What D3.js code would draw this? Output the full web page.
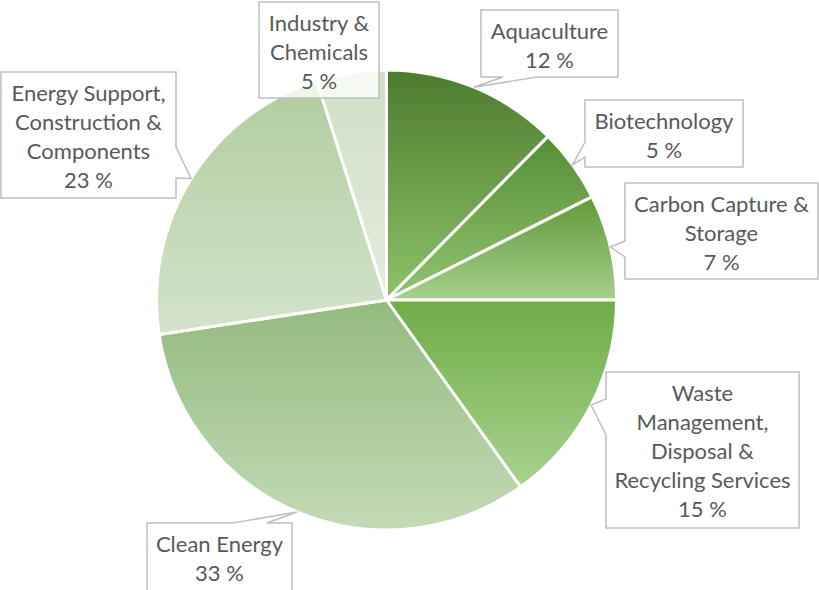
<!DOCTYPE html>
<html>
<head>
<meta charset="utf-8">
<script src="https://cdn.jsdelivr.net/npm/d3@7"></script>
<style>
  html, body { margin: 0; padding: 0; background: #ffffff; }
  svg { display: block; }
</style>
</head>
<body>
<svg id="chart" width="819" height="590"></svg>
<script>
// Sector shares of green-economy activity (percent), clockwise from 12 o'clock
const categories = [
  "Aquaculture",
  "Biotechnology",
  "Carbon Capture & Storage",
  "Waste Management, Disposal & Recycling Services",
  "Clean Energy",
  "Energy Support, Construction & Components",
  "Industry & Chemicals"
];
const shares = [12.4, 5.2, 7.4, 15.1, 32.5, 22.5, 4.9];

// Line breaks used inside each callout
const labelLines = [
  ["Aquaculture"],
  ["Biotechnology"],
  ["Carbon Capture &", "Storage"],
  ["Waste", "Management,", "Disposal &", "Recycling Services"],
  ["Clean Energy"],
  ["Energy Support,", "Construction &", "Components"],
  ["Industry &", "Chemicals"]
];

// Slice gradients: top colour, bottom colour
const gradTop    = ["#4d7b2e", "#578d35", "#62993b", "#6ead46", "#93bb7e", "#b1cd9f", "#cfdfc6"];
const gradBottom = ["#8cc36a", "#92c573", "#a5d08b", "#a9d290", "#c3dab6", "#d3e3ca", "#e3ecde"];

const data = categories.map((c, i) => ({ name: c, value: shares[i], lines: labelLines[i] }));

// Callout boxes: rectangle plus the edge the pointer leaves from and its base span
const callouts = [
  { x: 481, y: 10,  w: 137, h: 67,  side: "bottom", b0: 537, b1: 503 },
  { x: 585, y: 100, w: 158, h: 67,  side: "left",   b0: 142, b1: 157 },
  { x: 625, y: 183, w: 193, h: 96,  side: "left",   b0: 241, b1: 257 },
  { x: 606, y: 372, w: 193, h: 156, side: "left",   b0: 399, b1: 435 },
  { x: 147, y: 523, w: 145, h: 96,  side: "top",    b0: 233, b1: 267 },
  { x: 1,   y: 72,  w: 175, h: 126, side: "right",  b0: 147, b1: 178 },
  { x: 259, y: 2,   w: 120, h: 96,  side: null }
];

const svg = d3.select("#chart");
const cx = 386.5, cy = 300, radius = 230;

const pie = d3.pie().sort(null).value(d => d.value);
const arcs = pie(data);
const arc = d3.arc().innerRadius(0).outerRadius(radius);

const defs = svg.append("defs");
arcs.forEach((a, i) => {
  const g = defs.append("linearGradient")
    .attr("id", "slice-grad-" + i)
    .attr("x1", 0).attr("y1", 0).attr("x2", 0).attr("y2", 1);
  g.append("stop").attr("offset", "0%").attr("stop-color", gradTop[i]);
  g.append("stop").attr("offset", "100%").attr("stop-color", gradBottom[i]);
});

const pieG = svg.append("g").attr("transform", `translate(${cx},${cy})`);
pieG.selectAll("path.slice")
  .data(arcs)
  .join("path")
  .attr("class", "slice")
  .attr("d", arc)
  .attr("fill", (d, i) => `url(#slice-grad-${i})`)
  .attr("stroke", "#ffffff")
  .attr("stroke-width", 3)
  .attr("stroke-linejoin", "round");

// Pointer tip sits on the rim at each slice's mid angle
function tipPoint(a) {
  const m = (a.startAngle + a.endAngle) / 2;
  return [cx + radius * Math.sin(m), cy - radius * Math.cos(m)];
}

function calloutPath(c, tip) {
  const x0 = c.x, y0 = c.y, x1 = c.x + c.w, y1 = c.y + c.h;
  const p = d3.path();
  p.moveTo(x0, y0);
  if (c.side === "top") {
    p.lineTo(c.b0, y0); p.lineTo(tip[0], tip[1]); p.lineTo(c.b1, y0);
  }
  p.lineTo(x1, y0);
  if (c.side === "right") {
    p.lineTo(x1, c.b0); p.lineTo(tip[0], tip[1]); p.lineTo(x1, c.b1);
  }
  p.lineTo(x1, y1);
  if (c.side === "bottom") {
    p.lineTo(c.b0, y1); p.lineTo(tip[0], tip[1]); p.lineTo(c.b1, y1);
  }
  p.lineTo(x0, y1);
  if (c.side === "left") {
    p.lineTo(x0, c.b1); p.lineTo(tip[0], tip[1]); p.lineTo(x0, c.b0);
  }
  p.closePath();
  return p.toString();
}

const pct = v => Math.round(v) + " %";
const lineH = 29;
const firstBaseline = 28.5;

const labelG = svg.append("g").attr("class", "labels");
arcs.forEach((a, i) => {
  const c = callouts[i];
  const tip = tipPoint(a);
  const g = labelG.append("g");
  g.append("path")
    .attr("d", calloutPath(c, tip))
    .attr("fill", "#ffffff")
    .attr("fill-opacity", 0.8)
    .attr("stroke", "#bfbfbf")
    .attr("stroke-width", 1.5)
    .attr("stroke-linejoin", "miter");
  const lines = a.data.lines.concat([pct(a.data.value)]);
  const mx = c.x + c.w / 2;
  const txt = g.append("text")
    .attr("text-anchor", "middle")
    .attr("font-family", "Lato, 'Open Sans', sans-serif")
    .attr("font-size", 22)
    .attr("fill", "#595959");
  lines.forEach((s, k) => {
    txt.append("tspan")
      .attr("x", mx)
      .attr("y", c.y + firstBaseline + k * lineH)
      .text(s);
  });
});
</script>
</body>
</html>
